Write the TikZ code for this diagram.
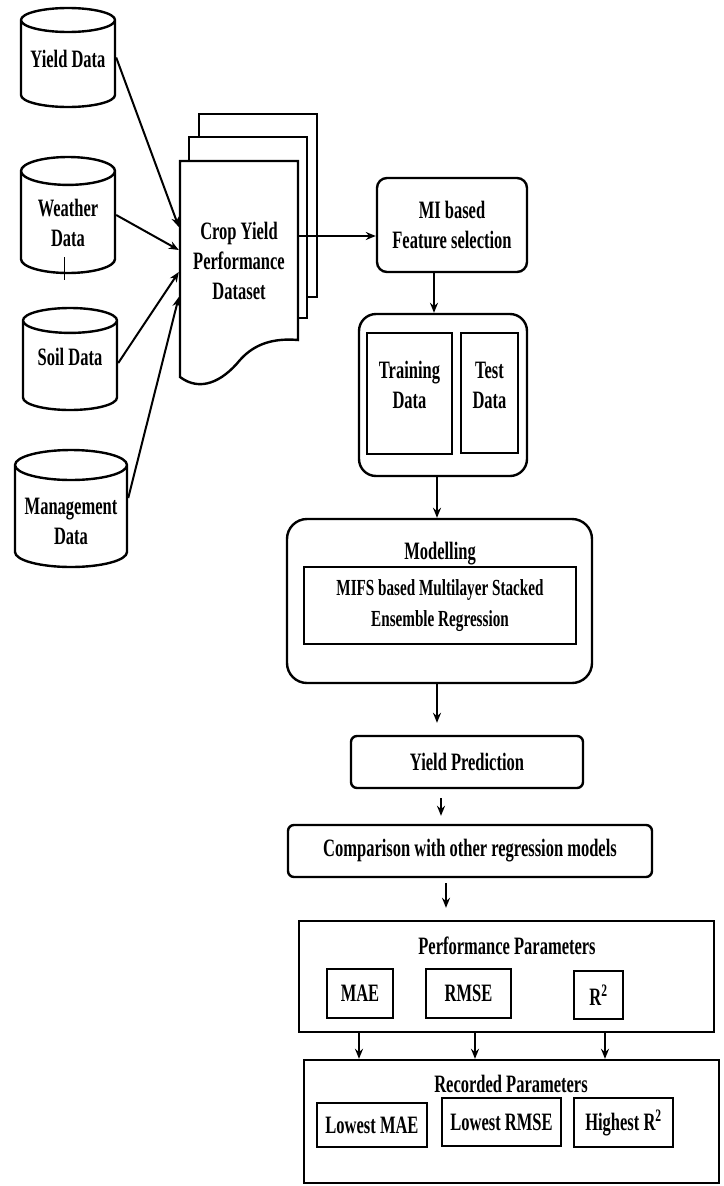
\documentclass[tikz,border=0pt]{standalone}
\usepackage{fontspec}
\setmainfont{Liberation Serif}[FakeStretch=0.66]
\usetikzlibrary{shapes.geometric,arrows.meta,positioning}
\tikzset{
  base/.style={font=\bfseries\fontsize{25}{30}\selectfont, align=center, line width=2.4pt},
  dbase/.style={base, draw, cylinder, shape border rotate=90, aspect=0.3, fill=white, inner sep=0pt, anchor=shape center},
  roundbox/.style={base, draw, rounded corners=#1},
  sqbox/.style={base, draw, inner sep=0pt},
  page/.style={draw, fill=white, line width=2.4pt},
  arrow/.style={line width=2pt, -{Stealth[length=10pt,width=8pt]}},
}

\begin{document}
\begin{tikzpicture}[x=1pt,y=-1pt]
   \useasboundingbox (0,0) rectangle (723,1186);

   % data sources
   \node[dbase, minimum width=94, minimum height=99] (yld) at (68,57.5) {\rule{80pt}{0pt}};
   \node[base] (yldtxt) at (68,59) {Yield Data};
   \node[dbase, minimum width=94, minimum height=116] (wth) at (68,215) {\rule{93pt}{0pt}};
   \node[base] (wthtxt) at (68,223) {Weather\\Data};
   \node[dbase, minimum width=94, minimum height=102] (soil) at (70,359) {\rule{83pt}{0pt}};
   \node[base] (soiltxt) at (70,357) {Soil Data};
   \node[dbase, minimum width=112, minimum height=117] (mgmt) at (71,508.5) {\rule{100pt}{0pt}};
   \node[base] (mgmttxt) at (71,521) {Management\\Data};
   \draw[line width=0.8pt] (64,257) -- (64,280);

   % stacked dataset
   \draw[page] (199,114) rectangle (317,297);
   \draw[page] (189,137) rectangle (307,318);
   \draw[page] (180,161) -- (298,161) -- (298,340)
      .. controls (275,338) and (255,343) .. (240,360)
      .. controls (222,382) and (200,392) .. (180,377) -- cycle;
   \node[base, minimum width=118, minimum height=180] (data) at (239,261) {Crop Yield\\Performance\\Dataset};

   \draw[arrow] (yld.east |- yld.shape center) -- ([yshift=34pt]data.west);
   \draw[arrow] (wth.east |- wth.shape center) -- ([yshift=11pt]data.west);
   \draw[arrow] ([yshift=-4pt]soil.east |- soil.shape center) -- ([yshift=-11pt]data.west);
   \draw[arrow] ([yshift=10.5pt]mgmt.east |- mgmt.shape center) -- ([yshift=-36pt]data.west);

   % feature selection and split
   \node[roundbox=10pt, minimum width=150, minimum height=94] (mi) at (452,225) {MI based\\Feature selection};
   \draw[arrow] ([yshift=25pt]data.east) -- ([yshift=-11pt]mi.west);

   \node[roundbox=17pt, minimum width=168, minimum height=162] (split) at (443,395) {};
   \node[sqbox, minimum width=85, minimum height=121] (train) at (409.5,393.5) {};
   \node[base] (traintxt) at (409.5,385) {Training\\Data};
   \node[sqbox, minimum width=57, minimum height=120] (test) at (489.5,393) {};
   \node[base] (testtxt) at (489.5,385) {Test\\Data};
   \draw[arrow] ([xshift=-18pt]mi.south) -- ([xshift=-18pt]mi.south |- split.north);

   % modelling
   \node[roundbox=20pt, minimum width=305, minimum height=164] (model) at (439.5,601) {};
   \node[base] (modtxt) at (440,554) {Modelling};
   \node[sqbox, minimum width=272, minimum height=77, font=\bfseries\fontsize{23}{31}\selectfont] (mifs) at (440,605.5) {MIFS based Multilayer Stacked\\Ensemble Regression};
   \draw[arrow] ([xshift=-6pt]split.south) -- ([xshift=-6pt]split.south |- model.north);

   \node[roundbox=6pt, minimum width=232, minimum height=52] (pred) at (467,762) {Yield Prediction};
   \draw[arrow, shorten >=12pt] ([xshift=-2.5pt]model.south) -- ([xshift=-2.5pt]model.south |- pred.north);

   \node[roundbox=6pt, minimum width=364, minimum height=52] (comp) at (470,851) {Comparison with other regression models};
   \draw[arrow, shorten <=9pt, shorten >=8pt] ([xshift=-26pt]pred.south) -- ([xshift=-26pt]pred.south |- comp.north);

   % parameters
   \node[sqbox, minimum width=415, minimum height=111] (perf) at (506.5,976.5) {};
   \node[base] (perftxt) at (507,946) {Performance Parameters};
   \node[sqbox, minimum width=66, minimum height=49] (mae) at (360,993.5) {MAE};
   \node[sqbox, minimum width=85, minimum height=49] (rmse) at (468.5,993.5) {RMSE};
   \node[sqbox, minimum width=49, minimum height=48] (rsq) at (598.5,995) {R\textsuperscript{2}};
   \draw[arrow, shorten <=5pt, shorten >=12pt] ([xshift=-24pt]comp.south) -- ([xshift=-24pt]comp.south |- perf.north);

   \node[sqbox, minimum width=415, minimum height=123] (rec) at (511.5,1121.5) {};
   \node[base] (rectxt) at (511,1084) {Recorded Parameters};
   \node[sqbox, minimum width=110, minimum height=44] (lmae) at (372,1125) {Lowest MAE};
   \node[sqbox, minimum width=119, minimum height=48] (lrmse) at (501.5,1122) {Lowest RMSE};
   \node[sqbox, minimum width=99, minimum height=49] (hrsq) at (623.5,1122.5) {Highest R\textsuperscript{2}};
   \foreach \dx in {-147.5,-31.5,98.5}
      \draw[arrow] ([xshift=\dx pt]perf.south) -- ([xshift=\dx pt]perf.south |- rec.north);
\end{tikzpicture}
\end{document}
